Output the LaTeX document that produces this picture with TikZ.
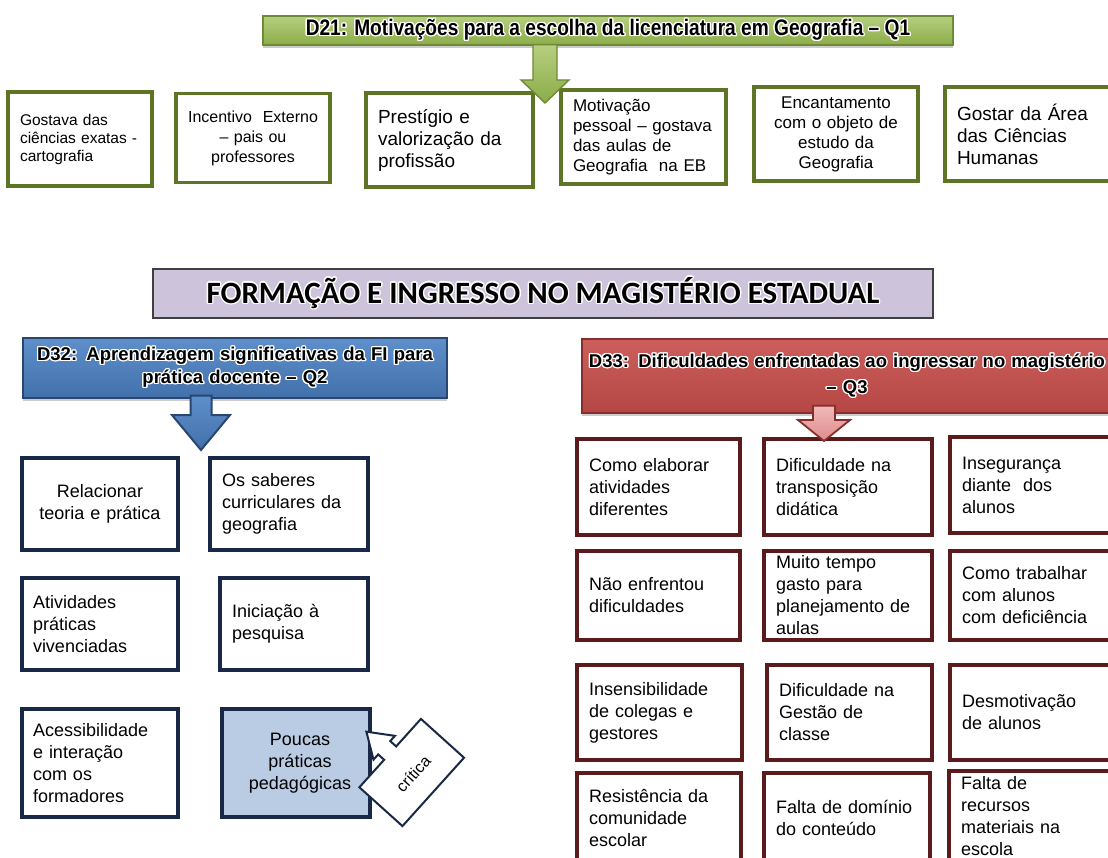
\documentclass[tikz,border=0pt]{standalone}
\usepackage{fontspec}
\setmainfont{Liberation Sans}
\newfontfamily\narrowsans[FakeStretch=0.85]{Liberation Sans}
\newfontfamily\titlesans{Carlito}
\usepackage{contour}
\contourlength{1.3pt}
\usetikzlibrary{calc,shadows}

\definecolor{olivebd}{RGB}{94,117,38}
\definecolor{navybd}{RGB}{26,40,72}
\definecolor{maroonbd}{RGB}{91,26,28}
\definecolor{greentop}{RGB}{182,207,128}
\definecolor{greenbot}{RGB}{140,172,72}
\definecolor{greenbd}{RGB}{110,138,52}
\definecolor{bluetop}{RGB}{95,143,203}
\definecolor{bluebot}{RGB}{66,112,170}
\definecolor{bluebd}{RGB}{40,70,112}
\definecolor{redtop}{RGB}{204,94,91}
\definecolor{redbot}{RGB}{180,70,67}
\definecolor{redbd}{RGB}{135,45,43}
\definecolor{lavender}{RGB}{205,196,220}
\definecolor{paleblue}{RGB}{185,204,228}
\definecolor{pinktop}{RGB}{240,185,185}
\definecolor{pinkbot}{RGB}{222,140,140}

% white halo around header lettering
\newcommand\glowtext[1]{\contour{white}{#1}}

% block arrow from (#2) down to the tip (#3):
% #4 shaft half width, #5 head half width, #6 head length
\newcommand\blockarrow[6]{%
  \path[#1] let \p1=(#2), \p2=(#3) in
    (\x1-#4pt,\y1) -- (\x1+#4pt,\y1) -- (\x1+#4pt,\y2+#6pt) --
    (\x1+#5pt,\y2+#6pt) -- (\x1,\y2) -- (\x1-#5pt,\y2+#6pt) --
    (\x1-#4pt,\y2+#6pt) -- cycle;}

\begin{document}
\begin{tikzpicture}[x=1pt,y=1pt,
  hdr/.style={line width=1.4pt, inner sep=0pt, align=center,
    drop shadow={shadow xshift=0pt, shadow yshift=-3pt, opacity=0.4}},
  gbox/.style={draw=olivebd, line width=3.4pt, fill=white, inner sep=0pt},
  nbox/.style={draw=navybd, line width=3.2pt, fill=white, inner sep=0pt,
    font=\fontsize{18}{22}\selectfont},
  rbox/.style={draw=maroonbd, line width=3.2pt, fill=white, inner sep=0pt,
    font=\fontsize{18}{22}\selectfont, align=left},
  garrow/.style={draw=greenbd, line width=1.4pt, top color=greentop, bottom color=greenbot},
  barrow/.style={draw=bluebd, line width=2pt, top color=bluetop, bottom color=bluebot},
  parrow/.style={draw=redbd, line width=1.8pt, top color=pinktop, bottom color=pinkbot},
  callout/.style={draw=navybd, line width=2pt, fill=white, line join=miter}
]
\useasboundingbox (0,0) rectangle (1108,-858);
\fill[white] (0,0) rectangle (1108,-858);

% ---------- D21: motivations ----------
\node[hdr, draw=greenbd, top color=greentop, bottom color=greenbot,
      minimum width=690, minimum height=29,
      font=\narrowsans\bfseries\fontsize{22.5}{26}\selectfont] (h21) at (608,-30.5)
  {\glowtext{D21: Motivações para a escolha da licenciatura em Geografia – Q1}};

\node[gbox, minimum width=144, minimum height=94, text width=120, align=left,
      font=\fontsize{15.5}{18}\selectfont] (m1) at (80,-139)
  {Gostava das\\ciências exatas -\\cartografia};
\node[gbox, minimum width=154, minimum height=89, text width=140, align=center,
      font=\fontsize{16}{20}\selectfont] (m2) at (253,-138)
  {Incentivo\ \ Externo\\– pais ou\\professores};
\node[gbox, minimum width=167, minimum height=94, text width=143, align=left,
      font=\fontsize{19}{22}\selectfont] (m3) at (449.5,-140)
  {Prestígio e\\valorização da\\profissão};
\node[gbox, minimum width=165, minimum height=94, text width=141, align=left,
      font=\fontsize{17}{20}\selectfont] (m4) at (643.5,-137)
  {Motivação\\pessoal – gostava\\das aulas de\\Geografia\ \ na EB};
\node[gbox, minimum width=164, minimum height=94, text width=150, align=center,
      font=\fontsize{17}{20}\selectfont] (m5) at (836,-134)
  {Encantamento\\com o objeto de\\estudo da\\Geografia};
\node[gbox, minimum width=167, minimum height=94, text width=143, align=left,
      font=\fontsize{19}{22}\selectfont] (m6) at (1028.5,-134)
  {Gostar da Área\\das Ciências\\Humanas};

\coordinate (g0) at ($(h21.south)+(-63,1)$);
\coordinate (g1) at (545,-103);
\blockarrow{garrow}{g0}{g1}{12}{24}{23}

% ---------- title ----------
\node[draw=black!75, line width=1.2pt, fill=lavender, inner sep=0pt,
      minimum width=780, minimum height=49,
      font=\titlesans\bfseries\fontsize{31}{36}\selectfont] (title) at (543,-293.5)
  {\glowtext{FORMAÇÃO E INGRESSO NO MAGISTÉRIO ESTADUAL}};

% ---------- D32: learning ----------
\node[hdr, draw=bluebd, top color=bluetop, bottom color=bluebot,
      minimum width=424, minimum height=60, text width=410,
      font=\bfseries\fontsize{18.5}{23}\selectfont] (h32) at (235,-368)
  {\glowtext{D32: Aprendizagem significativas da FI para}\\\glowtext{prática docente – Q2}};

\node[nbox, minimum width=156, minimum height=92, text width=140, align=center] (a1) at (100,-504)
  {Relacionar\\teoria e prática};
\node[nbox, minimum width=158, minimum height=92, text width=134, align=left] (a2) at (289,-504)
  {Os saberes\\curriculares da\\geografia};
\node[nbox, minimum width=156, minimum height=92, text width=134, align=left] (a3) at (100,-624)
  {Atividades\\práticas\\vivenciadas};
\node[nbox, minimum width=148, minimum height=92, text width=124, align=left] (a4) at (294,-624)
  {Iniciação à\\pesquisa};
\node[nbox, minimum width=156, minimum height=108, text width=134, align=left] (a5) at (100,-763)
  {Acessibilidade\\e interação\\com os\\formadores};
\node[nbox, fill=paleblue, minimum width=148, minimum height=108, text width=140, align=center] (a6) at (296,-763)
  {\hspace*{8pt}Poucas\\\hspace*{8pt}práticas\\\hspace*{8pt}pedagógicas};

\coordinate (b0) at ($(h32.south)+(-34,3)$);
\coordinate (b1) at (201,-450);
\blockarrow{barrow}{b0}{b1}{10.5}{29}{35}

% callout pointing back at the last box
\begin{scope}[shift={(411.7,-772.5)}, rotate=-42]
  \path[callout] (-29,46) -- (29,46) -- (29,-46) -- (-29,-46) -- (-29,-9) --
    (-37,-9) -- (-37,-16) -- (-61,0) -- (-37,16) -- (-37,9) -- (-29,9) -- cycle;
  \node[rotate=48, inner sep=0pt, font=\fontsize{16}{18}\selectfont] (crit) at (2,0) {crítica};
\end{scope}

% ---------- D33: difficulties ----------
\node[hdr, draw=redbd, top color=redtop, bottom color=redbot,
      minimum width=530, minimum height=74, text width=526,
      font=\bfseries\fontsize{18.5}{26}\selectfont] (h33) at (847,-376)
  {\glowtext{D33: Dificuldades enfrentadas ao ingressar no magistério}\\\glowtext{– Q3}};

\node[rbox, minimum width=163, minimum height=96, text width=139] (d11) at (658.5,-487)
  {Como elaborar\\atividades\\diferentes};
\node[rbox, minimum width=168, minimum height=96, text width=144] (d12) at (848,-487)
  {Dificuldade na\\transposição\\didática};
\node[rbox, minimum width=164, minimum height=96, text width=140] (d13) at (1032,-485)
  {Insegurança\\diante\ \ dos\\alunos};

\node[rbox, minimum width=163, minimum height=89, text width=139] (d21) at (658.5,-595.5)
  {Não enfrentou\\dificuldades};
\node[rbox, minimum width=168, minimum height=89, text width=144] (d22) at (848,-595.5)
  {Muito tempo\\gasto para\\planejamento de\\aulas};
\node[rbox, minimum width=164, minimum height=89, text width=140] (d23) at (1032,-595.5)
  {Como trabalhar\\com alunos\\com deficiência};

\node[rbox, minimum width=165, minimum height=95, text width=141] (d31) at (659.5,-712.5)
  {Insensibilidade\\de colegas e\\gestores};
\node[rbox, minimum width=165, minimum height=95, text width=141] (d32) at (849.5,-712.5)
  {Dificuldade na\\Gestão de\\classe};
\node[rbox, minimum width=164, minimum height=95, text width=140] (d33) at (1032,-712.5)
  {Desmotivação\\de alunos};

\node[rbox, minimum width=164, minimum height=90, text width=140] (d41) at (659,-818)
  {Resistência da\\comunidade\\escolar};
\node[rbox, minimum width=166, minimum height=90, text width=142] (d42) at (847,-818)
  {Falta de domínio\\do conteúdo};
\node[rbox, minimum width=164, minimum height=90, text width=140] (d43) at (1031,-816)
  {Falta de\\recursos\\materiais na\\escola};

\coordinate (r0) at ($(h33.south)+(-23,8)$);
\coordinate (r1) at (824,-441);
\blockarrow{parrow}{r0}{r1}{11}{26}{21}
\end{tikzpicture}
\end{document}
